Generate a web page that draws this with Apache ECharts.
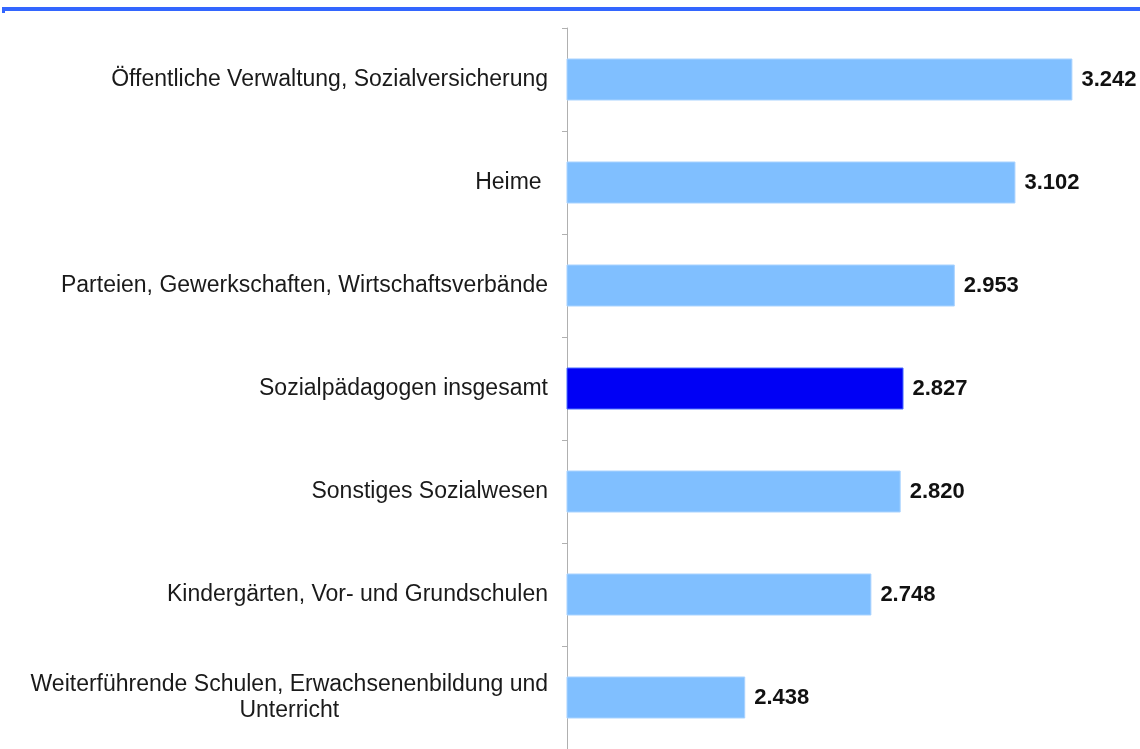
<!DOCTYPE html>
<html>
<head>
<meta charset="utf-8">
<script src="https://cdn.jsdelivr.net/npm/echarts@6/dist/echarts.min.js"></script>
<style>
  html, body { margin: 0; padding: 0; background: #fff; }
  #chart { width: 1140px; height: 749px; }
</style>
</head>
<body>
<div id="chart"></div>
<script>
var categories = [
  'Öffentliche Verwaltung, Sozialversicherung',
  'Heime ',
  'Parteien, Gewerkschaften, Wirtschaftsverbände',
  'Sozialpädagogen insgesamt',
  'Sonstiges Sozialwesen',
  'Kindergärten, Vor- und Grundschulen',
  'Weiterführende Schulen, Erwachsenenbildung und\nUnterricht'
];
var values = [3.242, 3.102, 2.953, 2.827, 2.820, 2.748, 2.438];
var highlight = 'Sozialpädagogen insgesamt';

var chartDom = document.getElementById('chart');
var myChart = echarts.init(chartDom);
var option;

option = {
  animation: false,
  textStyle: { fontFamily: 'Liberation Sans, Arial, sans-serif' },
  grid: { left: 567, right: 44, top: 28, bottom: -4, containLabel: false },
  graphic: [
    { type: 'rect', left: 2, top: 7, shape: { width: 1138, height: 4 }, style: { fill: '#3366ff' } },
    { type: 'rect', left: 2, top: 7, shape: { width: 3, height: 6 }, style: { fill: '#3366ff' } }
  ],
  xAxis: {
    type: 'value',
    min: 2,
    max: 3.3,
    show: false
  },
  yAxis: {
    type: 'category',
    inverse: true,
    data: categories,
    axisLine: { show: true, lineStyle: { color: '#b0b0b0', width: 1 } },
    axisTick: { show: true, length: 5, lineStyle: { color: '#b0b0b0' } },
    axisLabel: {
      margin: 19,
      fontSize: 23,
      color: '#1a1a1a',
      lineHeight: 26,
      formatter: function (v) {
        var parts = v.split('\n');
        if (parts.length > 1) {
          return parts[0] + '\n{c|' + parts[1] + '}';
        }
        return v;
      },
      rich: {
        c: { align: 'center', fontSize: 23, color: '#1a1a1a', lineHeight: 26 }
      }
    }
  },
  series: [
    {
      type: 'bar',
      barWidth: 42,
      data: values.map(function (v, i) {
        return {
          value: v,
          itemStyle: categories[i] === highlight
            ? { color: '#0000f5', borderColor: '#4a6cff', borderWidth: 1 }
            : { color: '#80bfff', borderColor: '#a9d3ff', borderWidth: 1 }
        };
      }),
      label: {
        show: true,
        position: 'right',
        distance: 9,
        fontSize: 22,
        fontWeight: 'bold',
        color: '#111',
        formatter: function (p) { return p.value.toFixed(3); }
      }
    }
  ]
};

option && myChart.setOption(option);
</script>
</body>
</html>
